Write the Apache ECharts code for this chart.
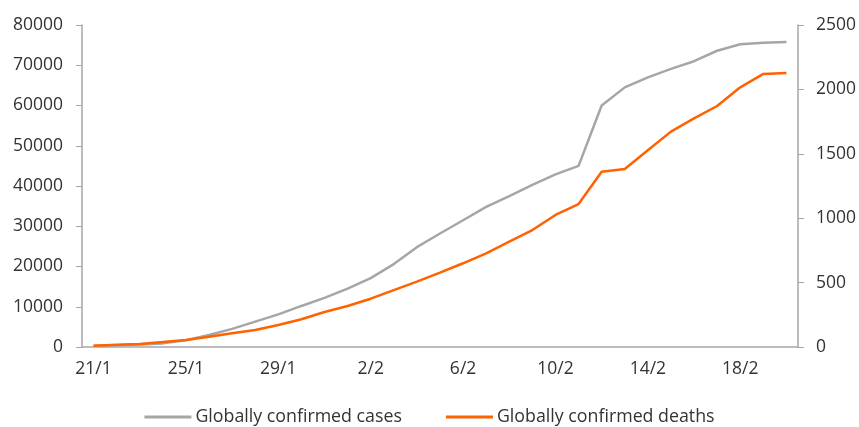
<!DOCTYPE html>
<html>
<head>
<meta charset="utf-8">
<script src="https://cdn.jsdelivr.net/npm/echarts@6/dist/echarts.min.js"></script>
<style>
  html, body { margin: 0; padding: 0; background: #fff; }
  #chart { width: 859px; height: 427px; }
</style>
</head>
<body>
<div id="chart"></div>
<script>
// Daily dates, 21 January to 20 February
const dates = [
  '21/1','22/1','23/1','24/1','25/1','26/1','27/1','28/1','29/1','30/1','31/1',
  '1/2','2/2','3/2','4/2','5/2','6/2','7/2','8/2','9/2','10/2',
  '11/2','12/2','13/2','14/2','15/2','16/2','17/2','18/2','19/2','20/2'
];

// Globally confirmed cases (left axis)
const cases = [
  300, 450, 600, 900, 1700, 3000, 4500, 6300, 8100, 10200, 12200,
  14500, 17100, 20600, 24800, 28200, 31500, 34800, 37500, 40300, 42900,
  45000, 60000, 64500, 67000, 69100, 71000, 73600, 75200, 75600, 75800
];

// Globally confirmed deaths (right axis)
const deaths = [
  10, 17, 24, 39, 55, 80, 106, 132, 171, 215, 272,
  318, 375, 442, 507, 577, 650, 727, 818, 908, 1025,
  1110, 1361, 1382, 1527, 1672, 1775, 1871, 2016, 2120, 2127
];

const seriesNames = ['Globally confirmed cases', 'Globally confirmed deaths'];

const FONT = '"Open Sans"';
const TEXT = '#333333';
const AXIS = '#a6a6a6';

const plain = v => String(v);

const chart = echarts.init(document.getElementById('chart'), null, { renderer: 'canvas' });

chart.setOption({
  animation: false,
  grid: { left: 82, right: 60, top: 25, bottom: 80, containLabel: false },
  legend: {
    data: seriesNames,
    left: 'center',
    top: 403,
    icon: 'rect',
    itemWidth: 47,
    itemHeight: 3,
    itemGap: 44,
    textStyle: { fontFamily: FONT, fontSize: 17.8, color: TEXT, padding: [0, 0, 0, -1] }
  },
  xAxis: {
    type: 'category',
    data: dates,
    boundaryGap: true,
    axisLine: { lineStyle: { color: AXIS, width: 1.5 } },
    axisTick: { interval: 3, length: 6, lineStyle: { color: AXIS } },
    axisLabel: { interval: 3, margin: 13, fontFamily: FONT, fontSize: 17.5, color: TEXT },
    splitLine: { show: false }
  },
  yAxis: [
    {
      type: 'value',
      min: 0, max: 80000, interval: 10000,
      axisLine: { show: true, lineStyle: { color: AXIS, width: 1.5 } },
      axisTick: { show: true, length: 6, lineStyle: { color: AXIS } },
      axisLabel: { margin: 19, fontFamily: FONT, fontSize: 17.5, color: TEXT, formatter: plain },
      splitLine: { show: false }
    },
    {
      type: 'value',
      min: 0, max: 2500, interval: 500,
      position: 'right',
      axisLine: { show: true, lineStyle: { color: AXIS, width: 1.5 } },
      axisTick: { show: true, length: 6, lineStyle: { color: AXIS } },
      axisLabel: { margin: 18, fontFamily: FONT, fontSize: 17.5, color: TEXT, formatter: plain },
      splitLine: { show: false }
    }
  ],
  series: [
    {
      name: seriesNames[0],
      type: 'line',
      yAxisIndex: 0,
      data: cases,
      showSymbol: false,
      symbol: 'none',
      color: '#a6a6a6',
      lineStyle: { color: '#a6a6a6', width: 2.5 }
    },
    {
      name: seriesNames[1],
      type: 'line',
      yAxisIndex: 1,
      data: deaths,
      showSymbol: false,
      symbol: 'none',
      color: '#ff6200',
      lineStyle: { color: '#ff6200', width: 2.5 }
    }
  ]
});
</script>
</body>
</html>
